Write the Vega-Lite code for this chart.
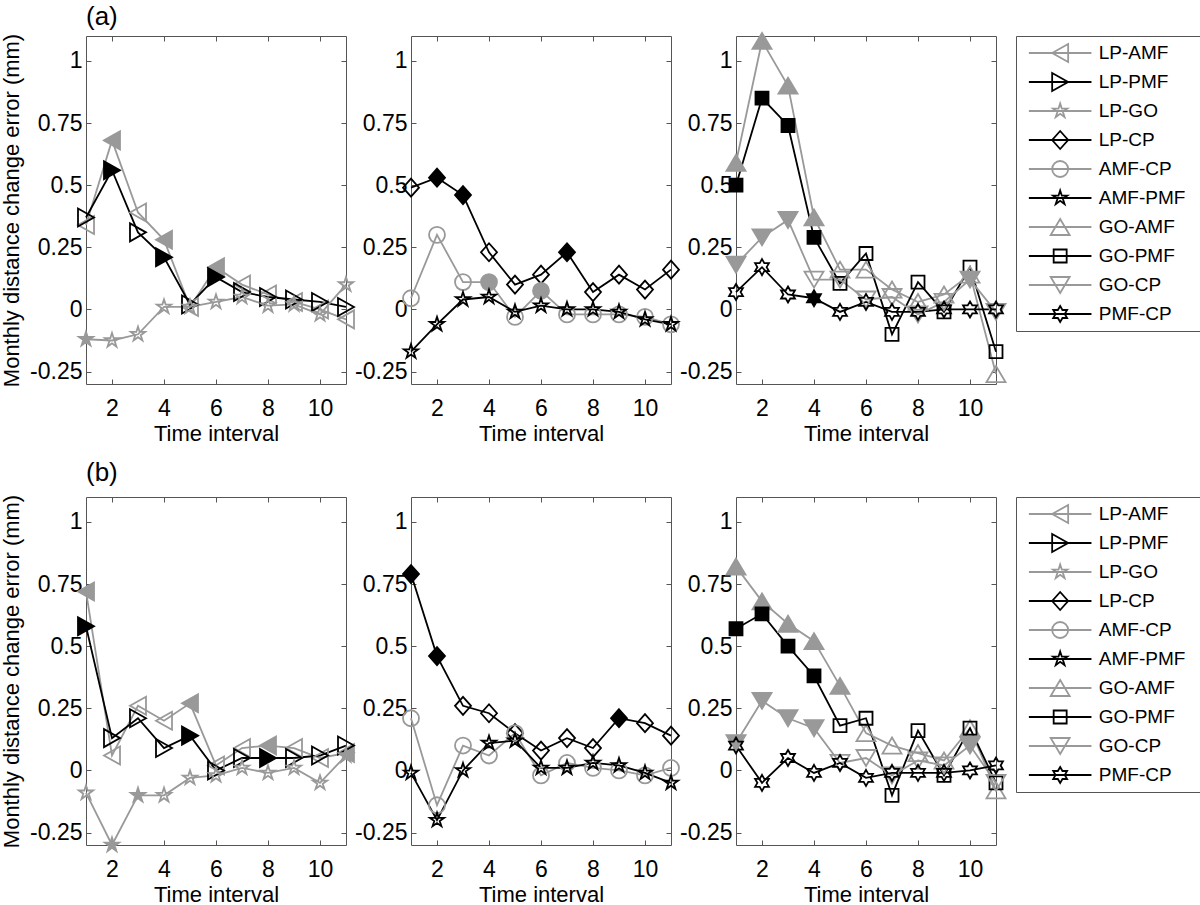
{
  "$schema": "https://vega.github.io/schema/vega-lite/v6.json",
  "background": "white",
  "padding": {"left": 0, "top": 3, "right": 0, "bottom": 0},
  "datasets": {
    "leg": [{"s":"LP-AMF"},{"s":"LP-PMF"},{"s":"LP-GO"},{"s":"LP-CP"},{"s":"AMF-CP"},{"s":"AMF-PMF"},{"s":"GO-AMF"},{"s":"GO-PMF"},{"s":"GO-CP"},{"s":"PMF-CP"}],
    "d": [
      {"r":"a","p":1,"s":"LP-AMF","t":1,"v":0.34,"f":0},{"r":"a","p":1,"s":"LP-AMF","t":2,"v":0.68,"f":1},{"r":"a","p":1,"s":"LP-AMF","t":3,"v":0.39,"f":0},{"r":"a","p":1,"s":"LP-AMF","t":4,"v":0.28,"f":1},{"r":"a","p":1,"s":"LP-AMF","t":5,"v":0.01,"f":0},{"r":"a","p":1,"s":"LP-AMF","t":6,"v":0.17,"f":1},{"r":"a","p":1,"s":"LP-AMF","t":7,"v":0.10,"f":0},{"r":"a","p":1,"s":"LP-AMF","t":8,"v":0.06,"f":0},{"r":"a","p":1,"s":"LP-AMF","t":9,"v":0.03,"f":0},{"r":"a","p":1,"s":"LP-AMF","t":10,"v":0.00,"f":0},{"r":"a","p":1,"s":"LP-AMF","t":11,"v":-0.04,"f":0},
      {"r":"a","p":1,"s":"LP-PMF","t":1,"v":0.37,"f":0},{"r":"a","p":1,"s":"LP-PMF","t":2,"v":0.56,"f":1},{"r":"a","p":1,"s":"LP-PMF","t":3,"v":0.31,"f":0},{"r":"a","p":1,"s":"LP-PMF","t":4,"v":0.21,"f":1},{"r":"a","p":1,"s":"LP-PMF","t":5,"v":0.02,"f":0},{"r":"a","p":1,"s":"LP-PMF","t":6,"v":0.13,"f":1},{"r":"a","p":1,"s":"LP-PMF","t":7,"v":0.07,"f":0},{"r":"a","p":1,"s":"LP-PMF","t":8,"v":0.05,"f":0},{"r":"a","p":1,"s":"LP-PMF","t":9,"v":0.04,"f":0},{"r":"a","p":1,"s":"LP-PMF","t":10,"v":0.03,"f":0},{"r":"a","p":1,"s":"LP-PMF","t":11,"v":0.01,"f":0},
      {"r":"a","p":1,"s":"LP-GO","t":1,"v":-0.12,"f":1},{"r":"a","p":1,"s":"LP-GO","t":2,"v":-0.125,"f":0},{"r":"a","p":1,"s":"LP-GO","t":3,"v":-0.10,"f":0},{"r":"a","p":1,"s":"LP-GO","t":4,"v":0.01,"f":0},{"r":"a","p":1,"s":"LP-GO","t":5,"v":0.01,"f":0},{"r":"a","p":1,"s":"LP-GO","t":6,"v":0.03,"f":0},{"r":"a","p":1,"s":"LP-GO","t":7,"v":0.05,"f":0},{"r":"a","p":1,"s":"LP-GO","t":8,"v":0.015,"f":0},{"r":"a","p":1,"s":"LP-GO","t":9,"v":0.02,"f":0},{"r":"a","p":1,"s":"LP-GO","t":10,"v":-0.02,"f":0},{"r":"a","p":1,"s":"LP-GO","t":11,"v":0.10,"f":0},

      {"r":"a","p":2,"s":"LP-CP","t":1,"v":0.49,"f":0},{"r":"a","p":2,"s":"LP-CP","t":2,"v":0.53,"f":1},{"r":"a","p":2,"s":"LP-CP","t":3,"v":0.46,"f":1},{"r":"a","p":2,"s":"LP-CP","t":4,"v":0.23,"f":0},{"r":"a","p":2,"s":"LP-CP","t":5,"v":0.10,"f":0},{"r":"a","p":2,"s":"LP-CP","t":6,"v":0.14,"f":0},{"r":"a","p":2,"s":"LP-CP","t":7,"v":0.23,"f":1},{"r":"a","p":2,"s":"LP-CP","t":8,"v":0.07,"f":0},{"r":"a","p":2,"s":"LP-CP","t":9,"v":0.14,"f":0},{"r":"a","p":2,"s":"LP-CP","t":10,"v":0.08,"f":0},{"r":"a","p":2,"s":"LP-CP","t":11,"v":0.16,"f":0},
      {"r":"a","p":2,"s":"AMF-CP","t":1,"v":0.045,"f":0},{"r":"a","p":2,"s":"AMF-CP","t":2,"v":0.30,"f":0},{"r":"a","p":2,"s":"AMF-CP","t":3,"v":0.11,"f":0},{"r":"a","p":2,"s":"AMF-CP","t":4,"v":0.11,"f":1},{"r":"a","p":2,"s":"AMF-CP","t":5,"v":-0.03,"f":0},{"r":"a","p":2,"s":"AMF-CP","t":6,"v":0.075,"f":1},{"r":"a","p":2,"s":"AMF-CP","t":7,"v":-0.02,"f":0},{"r":"a","p":2,"s":"AMF-CP","t":8,"v":-0.02,"f":0},{"r":"a","p":2,"s":"AMF-CP","t":9,"v":-0.02,"f":0},{"r":"a","p":2,"s":"AMF-CP","t":10,"v":-0.03,"f":0},{"r":"a","p":2,"s":"AMF-CP","t":11,"v":-0.06,"f":0},
      {"r":"a","p":2,"s":"AMF-PMF","t":1,"v":-0.17,"f":0},{"r":"a","p":2,"s":"AMF-PMF","t":2,"v":-0.06,"f":0},{"r":"a","p":2,"s":"AMF-PMF","t":3,"v":0.04,"f":0},{"r":"a","p":2,"s":"AMF-PMF","t":4,"v":0.05,"f":0},{"r":"a","p":2,"s":"AMF-PMF","t":5,"v":-0.01,"f":0},{"r":"a","p":2,"s":"AMF-PMF","t":6,"v":0.015,"f":0},{"r":"a","p":2,"s":"AMF-PMF","t":7,"v":0.00,"f":0},{"r":"a","p":2,"s":"AMF-PMF","t":8,"v":0.00,"f":0},{"r":"a","p":2,"s":"AMF-PMF","t":9,"v":-0.01,"f":0},{"r":"a","p":2,"s":"AMF-PMF","t":10,"v":-0.04,"f":0},{"r":"a","p":2,"s":"AMF-PMF","t":11,"v":-0.06,"f":0},

      {"r":"a","p":3,"s":"GO-AMF","t":1,"v":0.59,"f":1},{"r":"a","p":3,"s":"GO-AMF","t":2,"v":1.08,"f":1},{"r":"a","p":3,"s":"GO-AMF","t":3,"v":0.90,"f":1},{"r":"a","p":3,"s":"GO-AMF","t":4,"v":0.37,"f":1},{"r":"a","p":3,"s":"GO-AMF","t":5,"v":0.16,"f":0},{"r":"a","p":3,"s":"GO-AMF","t":6,"v":0.16,"f":0},{"r":"a","p":3,"s":"GO-AMF","t":7,"v":0.08,"f":0},{"r":"a","p":3,"s":"GO-AMF","t":8,"v":0.03,"f":0},{"r":"a","p":3,"s":"GO-AMF","t":9,"v":0.06,"f":0},{"r":"a","p":3,"s":"GO-AMF","t":10,"v":0.14,"f":0},{"r":"a","p":3,"s":"GO-AMF","t":11,"v":-0.26,"f":0},
      {"r":"a","p":3,"s":"GO-PMF","t":1,"v":0.50,"f":1},{"r":"a","p":3,"s":"GO-PMF","t":2,"v":0.85,"f":1},{"r":"a","p":3,"s":"GO-PMF","t":3,"v":0.74,"f":1},{"r":"a","p":3,"s":"GO-PMF","t":4,"v":0.29,"f":1},{"r":"a","p":3,"s":"GO-PMF","t":5,"v":0.105,"f":0},{"r":"a","p":3,"s":"GO-PMF","t":6,"v":0.225,"f":0},{"r":"a","p":3,"s":"GO-PMF","t":7,"v":-0.10,"f":0},{"r":"a","p":3,"s":"GO-PMF","t":8,"v":0.11,"f":0},{"r":"a","p":3,"s":"GO-PMF","t":9,"v":-0.01,"f":0},{"r":"a","p":3,"s":"GO-PMF","t":10,"v":0.17,"f":0},{"r":"a","p":3,"s":"GO-PMF","t":11,"v":-0.17,"f":0},
      {"r":"a","p":3,"s":"GO-CP","t":1,"v":0.18,"f":1},{"r":"a","p":3,"s":"GO-CP","t":2,"v":0.29,"f":1},{"r":"a","p":3,"s":"GO-CP","t":3,"v":0.36,"f":1},{"r":"a","p":3,"s":"GO-CP","t":4,"v":0.12,"f":0},{"r":"a","p":3,"s":"GO-CP","t":5,"v":0.12,"f":0},{"r":"a","p":3,"s":"GO-CP","t":6,"v":0.04,"f":0},{"r":"a","p":3,"s":"GO-CP","t":7,"v":0.05,"f":0},{"r":"a","p":3,"s":"GO-CP","t":8,"v":-0.02,"f":0},{"r":"a","p":3,"s":"GO-CP","t":9,"v":0.03,"f":0},{"r":"a","p":3,"s":"GO-CP","t":10,"v":0.12,"f":1},{"r":"a","p":3,"s":"GO-CP","t":11,"v":-0.01,"f":0},
      {"r":"a","p":3,"s":"PMF-CP","t":1,"v":0.07,"f":0},{"r":"a","p":3,"s":"PMF-CP","t":2,"v":0.17,"f":0},{"r":"a","p":3,"s":"PMF-CP","t":3,"v":0.06,"f":0},{"r":"a","p":3,"s":"PMF-CP","t":4,"v":0.045,"f":1},{"r":"a","p":3,"s":"PMF-CP","t":5,"v":-0.01,"f":0},{"r":"a","p":3,"s":"PMF-CP","t":6,"v":0.03,"f":0},{"r":"a","p":3,"s":"PMF-CP","t":7,"v":-0.01,"f":0},{"r":"a","p":3,"s":"PMF-CP","t":8,"v":-0.01,"f":0},{"r":"a","p":3,"s":"PMF-CP","t":9,"v":0.00,"f":0},{"r":"a","p":3,"s":"PMF-CP","t":10,"v":0.00,"f":0},{"r":"a","p":3,"s":"PMF-CP","t":11,"v":0.00,"f":0},

      {"r":"b","p":1,"s":"LP-AMF","t":1,"v":0.72,"f":1},{"r":"b","p":1,"s":"LP-AMF","t":2,"v":0.06,"f":0},{"r":"b","p":1,"s":"LP-AMF","t":3,"v":0.26,"f":0},{"r":"b","p":1,"s":"LP-AMF","t":4,"v":0.20,"f":0},{"r":"b","p":1,"s":"LP-AMF","t":5,"v":0.27,"f":1},{"r":"b","p":1,"s":"LP-AMF","t":6,"v":0.02,"f":0},{"r":"b","p":1,"s":"LP-AMF","t":7,"v":0.09,"f":0},{"r":"b","p":1,"s":"LP-AMF","t":8,"v":0.10,"f":1},{"r":"b","p":1,"s":"LP-AMF","t":9,"v":0.09,"f":0},{"r":"b","p":1,"s":"LP-AMF","t":10,"v":0.05,"f":0},{"r":"b","p":1,"s":"LP-AMF","t":11,"v":0.07,"f":1},
      {"r":"b","p":1,"s":"LP-PMF","t":1,"v":0.58,"f":1},{"r":"b","p":1,"s":"LP-PMF","t":2,"v":0.13,"f":0},{"r":"b","p":1,"s":"LP-PMF","t":3,"v":0.21,"f":0},{"r":"b","p":1,"s":"LP-PMF","t":4,"v":0.09,"f":0},{"r":"b","p":1,"s":"LP-PMF","t":5,"v":0.14,"f":1},{"r":"b","p":1,"s":"LP-PMF","t":6,"v":0.00,"f":0},{"r":"b","p":1,"s":"LP-PMF","t":7,"v":0.05,"f":0},{"r":"b","p":1,"s":"LP-PMF","t":8,"v":0.05,"f":1},{"r":"b","p":1,"s":"LP-PMF","t":9,"v":0.05,"f":0},{"r":"b","p":1,"s":"LP-PMF","t":10,"v":0.06,"f":0},{"r":"b","p":1,"s":"LP-PMF","t":11,"v":0.10,"f":0},
      {"r":"b","p":1,"s":"LP-GO","t":1,"v":-0.09,"f":0},{"r":"b","p":1,"s":"LP-GO","t":2,"v":-0.30,"f":1},{"r":"b","p":1,"s":"LP-GO","t":3,"v":-0.10,"f":1},{"r":"b","p":1,"s":"LP-GO","t":4,"v":-0.10,"f":0},{"r":"b","p":1,"s":"LP-GO","t":5,"v":-0.03,"f":0},{"r":"b","p":1,"s":"LP-GO","t":6,"v":-0.02,"f":0},{"r":"b","p":1,"s":"LP-GO","t":7,"v":0.01,"f":0},{"r":"b","p":1,"s":"LP-GO","t":8,"v":-0.01,"f":0},{"r":"b","p":1,"s":"LP-GO","t":9,"v":0.01,"f":0},{"r":"b","p":1,"s":"LP-GO","t":10,"v":-0.05,"f":0},{"r":"b","p":1,"s":"LP-GO","t":11,"v":0.06,"f":1},

      {"r":"b","p":2,"s":"LP-CP","t":1,"v":0.79,"f":1},{"r":"b","p":2,"s":"LP-CP","t":2,"v":0.46,"f":1},{"r":"b","p":2,"s":"LP-CP","t":3,"v":0.26,"f":0},{"r":"b","p":2,"s":"LP-CP","t":4,"v":0.23,"f":0},{"r":"b","p":2,"s":"LP-CP","t":5,"v":0.15,"f":0},{"r":"b","p":2,"s":"LP-CP","t":6,"v":0.08,"f":0},{"r":"b","p":2,"s":"LP-CP","t":7,"v":0.13,"f":0},{"r":"b","p":2,"s":"LP-CP","t":8,"v":0.09,"f":0},{"r":"b","p":2,"s":"LP-CP","t":9,"v":0.21,"f":1},{"r":"b","p":2,"s":"LP-CP","t":10,"v":0.19,"f":0},{"r":"b","p":2,"s":"LP-CP","t":11,"v":0.14,"f":0},
      {"r":"b","p":2,"s":"AMF-CP","t":1,"v":0.21,"f":0},{"r":"b","p":2,"s":"AMF-CP","t":2,"v":-0.14,"f":0},{"r":"b","p":2,"s":"AMF-CP","t":3,"v":0.10,"f":0},{"r":"b","p":2,"s":"AMF-CP","t":4,"v":0.06,"f":0},{"r":"b","p":2,"s":"AMF-CP","t":5,"v":0.15,"f":0},{"r":"b","p":2,"s":"AMF-CP","t":6,"v":-0.02,"f":0},{"r":"b","p":2,"s":"AMF-CP","t":7,"v":0.03,"f":0},{"r":"b","p":2,"s":"AMF-CP","t":8,"v":0.01,"f":0},{"r":"b","p":2,"s":"AMF-CP","t":9,"v":0.00,"f":0},{"r":"b","p":2,"s":"AMF-CP","t":10,"v":-0.02,"f":0},{"r":"b","p":2,"s":"AMF-CP","t":11,"v":0.01,"f":0},
      {"r":"b","p":2,"s":"AMF-PMF","t":1,"v":-0.01,"f":0},{"r":"b","p":2,"s":"AMF-PMF","t":2,"v":-0.20,"f":0},{"r":"b","p":2,"s":"AMF-PMF","t":3,"v":0.00,"f":0},{"r":"b","p":2,"s":"AMF-PMF","t":4,"v":0.11,"f":0},{"r":"b","p":2,"s":"AMF-PMF","t":5,"v":0.12,"f":0},{"r":"b","p":2,"s":"AMF-PMF","t":6,"v":0.01,"f":0},{"r":"b","p":2,"s":"AMF-PMF","t":7,"v":0.01,"f":0},{"r":"b","p":2,"s":"AMF-PMF","t":8,"v":0.03,"f":0},{"r":"b","p":2,"s":"AMF-PMF","t":9,"v":0.02,"f":0},{"r":"b","p":2,"s":"AMF-PMF","t":10,"v":-0.01,"f":0},{"r":"b","p":2,"s":"AMF-PMF","t":11,"v":-0.05,"f":0},

      {"r":"b","p":3,"s":"GO-AMF","t":1,"v":0.82,"f":1},{"r":"b","p":3,"s":"GO-AMF","t":2,"v":0.68,"f":1},{"r":"b","p":3,"s":"GO-AMF","t":3,"v":0.59,"f":1},{"r":"b","p":3,"s":"GO-AMF","t":4,"v":0.52,"f":1},{"r":"b","p":3,"s":"GO-AMF","t":5,"v":0.34,"f":1},{"r":"b","p":3,"s":"GO-AMF","t":6,"v":0.15,"f":0},{"r":"b","p":3,"s":"GO-AMF","t":7,"v":0.10,"f":0},{"r":"b","p":3,"s":"GO-AMF","t":8,"v":0.07,"f":0},{"r":"b","p":3,"s":"GO-AMF","t":9,"v":0.04,"f":0},{"r":"b","p":3,"s":"GO-AMF","t":10,"v":0.17,"f":0},{"r":"b","p":3,"s":"GO-AMF","t":11,"v":-0.08,"f":0},
      {"r":"b","p":3,"s":"GO-PMF","t":1,"v":0.57,"f":1},{"r":"b","p":3,"s":"GO-PMF","t":2,"v":0.63,"f":1},{"r":"b","p":3,"s":"GO-PMF","t":3,"v":0.50,"f":1},{"r":"b","p":3,"s":"GO-PMF","t":4,"v":0.38,"f":1},{"r":"b","p":3,"s":"GO-PMF","t":5,"v":0.18,"f":0},{"r":"b","p":3,"s":"GO-PMF","t":6,"v":0.21,"f":0},{"r":"b","p":3,"s":"GO-PMF","t":7,"v":-0.10,"f":0},{"r":"b","p":3,"s":"GO-PMF","t":8,"v":0.16,"f":0},{"r":"b","p":3,"s":"GO-PMF","t":9,"v":-0.02,"f":0},{"r":"b","p":3,"s":"GO-PMF","t":10,"v":0.17,"f":0},{"r":"b","p":3,"s":"GO-PMF","t":11,"v":-0.05,"f":0},
      {"r":"b","p":3,"s":"GO-CP","t":1,"v":0.11,"f":1},{"r":"b","p":3,"s":"GO-CP","t":2,"v":0.28,"f":1},{"r":"b","p":3,"s":"GO-CP","t":3,"v":0.21,"f":1},{"r":"b","p":3,"s":"GO-CP","t":4,"v":0.17,"f":1},{"r":"b","p":3,"s":"GO-CP","t":5,"v":0.03,"f":0},{"r":"b","p":3,"s":"GO-CP","t":6,"v":0.05,"f":0},{"r":"b","p":3,"s":"GO-CP","t":7,"v":-0.02,"f":0},{"r":"b","p":3,"s":"GO-CP","t":8,"v":0.04,"f":0},{"r":"b","p":3,"s":"GO-CP","t":9,"v":0.02,"f":0},{"r":"b","p":3,"s":"GO-CP","t":10,"v":0.10,"f":1},{"r":"b","p":3,"s":"GO-CP","t":11,"v":-0.05,"f":0},
      {"r":"b","p":3,"s":"PMF-CP","t":1,"v":0.10,"f":0},{"r":"b","p":3,"s":"PMF-CP","t":2,"v":-0.05,"f":0},{"r":"b","p":3,"s":"PMF-CP","t":3,"v":0.05,"f":0},{"r":"b","p":3,"s":"PMF-CP","t":4,"v":-0.01,"f":0},{"r":"b","p":3,"s":"PMF-CP","t":5,"v":0.03,"f":0},{"r":"b","p":3,"s":"PMF-CP","t":6,"v":-0.03,"f":0},{"r":"b","p":3,"s":"PMF-CP","t":7,"v":-0.01,"f":0},{"r":"b","p":3,"s":"PMF-CP","t":8,"v":-0.01,"f":0},{"r":"b","p":3,"s":"PMF-CP","t":9,"v":-0.01,"f":0},{"r":"b","p":3,"s":"PMF-CP","t":10,"v":0.00,"f":0},{"r":"b","p":3,"s":"PMF-CP","t":11,"v":0.02,"f":0}
    ]
  },
  "data": {"name": "d"},
  "config": {
    "font": "Liberation Sans",
    "view": {"stroke": "#555555", "strokeWidth": 1},
    "axis": {
      "domain": false, "grid": false, "ticks": true, "tickSize": -5, "tickColor": "#555555", "tickWidth": 1,
      "labelFontSize": 23, "labelColor": "#000000", "labelOverlap": false, "labelBound": false, "labelFlush": false,
      "titleFontSize": 22, "titleFontWeight": "normal", "titleColor": "#000000"
    },
    "axisBottom": {"labelPadding": 18, "titlePadding": 3},
    "axisLeft": {"labelPadding": 9, "titlePadding": 6},
    "title": {"fontSize": 26, "fontWeight": "normal", "color": "#000000", "anchor": "start", "frame": "group", "offset": 4}
  },
  "spacing": 14,
  "vconcat": [
    {
      "spacing": 5,
      "hconcat": [
        {
          "spacing": 65,
          "bounds": "flush",
          "hconcat": [
            {
              "width": 260, "height": 348,
              "title": {"text": "(a)", "offset": 3},
              "transform": [{"filter": "datum.r == 'a' && datum.p == 1"}],
              "resolve": {"axis": {"x": "independent", "y": "independent"}},
              "layer": [
                {"mark": {"type": "line", "strokeWidth": 1.8},
                 "encoding": {
                   "x": {"field": "t", "type": "quantitative", "scale": {"domain": [1, 11], "nice": false, "zero": false}, "axis": {"orient": "bottom", "title": "Time interval", "values": [2,4,6,8,10]}},
                   "y": {"field": "v", "type": "quantitative", "scale": {"domain": [-0.3, 1.1], "nice": false, "zero": false}, "axis": {"orient": "left", "title": "Monthly distance change error (mm)", "values": [-0.25,0,0.25,0.5,0.75,1], "labelExpr": "datum.value < 0 ? '-' + format(-datum.value, '~g') : format(datum.value, '~g')"}},
                   "stroke": {"field": "s", "type": "nominal", "scale": {"domain": ["LP-AMF","LP-PMF","LP-GO","LP-CP","AMF-CP","AMF-PMF","GO-AMF","GO-PMF","GO-CP","PMF-CP"], "range": ["#999999","#000000","#999999","#000000","#999999","#000000","#999999","#000000","#999999","#000000"]}, "legend": null}
                 }},
                {"mark": {"type": "point", "size": 4, "opacity": 1, "strokeWidth": 1.8},
                 "encoding": {
                   "x": {"field": "t", "type": "quantitative", "axis": {"orient": "top", "title": null, "labels": false, "values": [2,4,6,8,10]}},
                   "y": {"field": "v", "type": "quantitative", "axis": {"orient": "right", "title": null, "labels": false, "values": [-0.25,0,0.25,0.5,0.75,1]}},
                   "shape": {"field": "s", "type": "nominal", "scale": {"domain": ["LP-AMF","LP-PMF","LP-GO","LP-CP","AMF-CP","AMF-PMF","GO-AMF","GO-PMF","GO-CP","PMF-CP"], "range": ["M-8,0L8,-9L8,9Z","M8,0L-8,-9L-8,9Z","M0,-7.5L1.68,-2.32L7.13,-2.32L2.72,0.89L4.41,6.07L0,2.87L-4.41,6.07L-2.72,0.89L-7.13,-2.32L-1.68,-2.32Z","M0,-9L8,0L0,9L-8,0Z","M8,0A8,8 0 1,1 -8,0A8,8 0 1,1 8,0Z","M0,-7.5L1.68,-2.32L7.13,-2.32L2.72,0.89L4.41,6.07L0,2.87L-4.41,6.07L-2.72,0.89L-7.13,-2.32L-1.68,-2.32Z","M0,-8L9.5,8L-9.5,8Z","M-6.5,-6.5L6.5,-6.5L6.5,6.5L-6.5,6.5Z","M0,8L9.5,-8L-9.5,-8Z","M0,-8L2.31,-4L6.93,-4L4.62,0L6.93,4L2.31,4L0,8L-2.31,4L-6.93,4L-4.62,0L-6.93,-4L-2.31,-4Z"]}, "legend": null},
                   "stroke": {"field": "s", "type": "nominal", "legend": null},
                   "fill": {"condition": {"test": "datum.f == 1", "field": "s", "type": "nominal", "scale": {"domain": ["LP-AMF","LP-PMF","LP-GO","LP-CP","AMF-CP","AMF-PMF","GO-AMF","GO-PMF","GO-CP","PMF-CP"], "range": ["#999999","#000000","#999999","#000000","#999999","#000000","#999999","#000000","#999999","#000000"]}, "legend": null}, "value": "transparent"}
                 }}
              ]
            },
            {
              "width": 260, "height": 348,
              "transform": [{"filter": "datum.r == 'a' && datum.p == 2"}],
              "resolve": {"axis": {"x": "independent", "y": "independent"}},
              "layer": [
                {"mark": {"type": "line", "strokeWidth": 1.8},
                 "encoding": {
                   "x": {"field": "t", "type": "quantitative", "scale": {"domain": [1, 11], "nice": false, "zero": false}, "axis": {"orient": "bottom", "title": "Time interval", "values": [2,4,6,8,10]}},
                   "y": {"field": "v", "type": "quantitative", "scale": {"domain": [-0.3, 1.1], "nice": false, "zero": false}, "axis": {"orient": "left", "title": null, "values": [-0.25,0,0.25,0.5,0.75,1], "labelExpr": "datum.value < 0 ? '-' + format(-datum.value, '~g') : format(datum.value, '~g')"}},
                   "stroke": {"field": "s", "type": "nominal", "scale": {"domain": ["LP-AMF","LP-PMF","LP-GO","LP-CP","AMF-CP","AMF-PMF","GO-AMF","GO-PMF","GO-CP","PMF-CP"], "range": ["#999999","#000000","#999999","#000000","#999999","#000000","#999999","#000000","#999999","#000000"]}, "legend": null}
                 }},
                {"mark": {"type": "point", "size": 4, "opacity": 1, "strokeWidth": 1.8},
                 "encoding": {
                   "x": {"field": "t", "type": "quantitative", "axis": {"orient": "top", "title": null, "labels": false, "values": [2,4,6,8,10]}},
                   "y": {"field": "v", "type": "quantitative", "axis": {"orient": "right", "title": null, "labels": false, "values": [-0.25,0,0.25,0.5,0.75,1]}},
                   "shape": {"field": "s", "type": "nominal", "scale": {"domain": ["LP-AMF","LP-PMF","LP-GO","LP-CP","AMF-CP","AMF-PMF","GO-AMF","GO-PMF","GO-CP","PMF-CP"], "range": ["M-8,0L8,-9L8,9Z","M8,0L-8,-9L-8,9Z","M0,-7.5L1.68,-2.32L7.13,-2.32L2.72,0.89L4.41,6.07L0,2.87L-4.41,6.07L-2.72,0.89L-7.13,-2.32L-1.68,-2.32Z","M0,-9L8,0L0,9L-8,0Z","M8,0A8,8 0 1,1 -8,0A8,8 0 1,1 8,0Z","M0,-7.5L1.68,-2.32L7.13,-2.32L2.72,0.89L4.41,6.07L0,2.87L-4.41,6.07L-2.72,0.89L-7.13,-2.32L-1.68,-2.32Z","M0,-8L9.5,8L-9.5,8Z","M-6.5,-6.5L6.5,-6.5L6.5,6.5L-6.5,6.5Z","M0,8L9.5,-8L-9.5,-8Z","M0,-8L2.31,-4L6.93,-4L4.62,0L6.93,4L2.31,4L0,8L-2.31,4L-6.93,4L-4.62,0L-6.93,-4L-2.31,-4Z"]}, "legend": null},
                   "stroke": {"field": "s", "type": "nominal", "legend": null},
                   "fill": {"condition": {"test": "datum.f == 1", "field": "s", "type": "nominal", "scale": {"domain": ["LP-AMF","LP-PMF","LP-GO","LP-CP","AMF-CP","AMF-PMF","GO-AMF","GO-PMF","GO-CP","PMF-CP"], "range": ["#999999","#000000","#999999","#000000","#999999","#000000","#999999","#000000","#999999","#000000"]}, "legend": null}, "value": "transparent"}
                 }}
              ]
            },
            {
              "width": 260, "height": 348,
              "transform": [{"filter": "datum.r == 'a' && datum.p == 3"}],
              "resolve": {"axis": {"x": "independent", "y": "independent"}},
              "layer": [
                {"mark": {"type": "line", "strokeWidth": 1.8},
                 "encoding": {
                   "x": {"field": "t", "type": "quantitative", "scale": {"domain": [1, 11], "nice": false, "zero": false}, "axis": {"orient": "bottom", "title": "Time interval", "values": [2,4,6,8,10]}},
                   "y": {"field": "v", "type": "quantitative", "scale": {"domain": [-0.3, 1.1], "nice": false, "zero": false}, "axis": {"orient": "left", "title": null, "values": [-0.25,0,0.25,0.5,0.75,1], "labelExpr": "datum.value < 0 ? '-' + format(-datum.value, '~g') : format(datum.value, '~g')"}},
                   "stroke": {"field": "s", "type": "nominal", "scale": {"domain": ["LP-AMF","LP-PMF","LP-GO","LP-CP","AMF-CP","AMF-PMF","GO-AMF","GO-PMF","GO-CP","PMF-CP"], "range": ["#999999","#000000","#999999","#000000","#999999","#000000","#999999","#000000","#999999","#000000"]}, "legend": null}
                 }},
                {"mark": {"type": "point", "size": 4, "opacity": 1, "strokeWidth": 1.8},
                 "encoding": {
                   "x": {"field": "t", "type": "quantitative", "axis": {"orient": "top", "title": null, "labels": false, "values": [2,4,6,8,10]}},
                   "y": {"field": "v", "type": "quantitative", "axis": {"orient": "right", "title": null, "labels": false, "values": [-0.25,0,0.25,0.5,0.75,1]}},
                   "shape": {"field": "s", "type": "nominal", "scale": {"domain": ["LP-AMF","LP-PMF","LP-GO","LP-CP","AMF-CP","AMF-PMF","GO-AMF","GO-PMF","GO-CP","PMF-CP"], "range": ["M-8,0L8,-9L8,9Z","M8,0L-8,-9L-8,9Z","M0,-7.5L1.68,-2.32L7.13,-2.32L2.72,0.89L4.41,6.07L0,2.87L-4.41,6.07L-2.72,0.89L-7.13,-2.32L-1.68,-2.32Z","M0,-9L8,0L0,9L-8,0Z","M8,0A8,8 0 1,1 -8,0A8,8 0 1,1 8,0Z","M0,-7.5L1.68,-2.32L7.13,-2.32L2.72,0.89L4.41,6.07L0,2.87L-4.41,6.07L-2.72,0.89L-7.13,-2.32L-1.68,-2.32Z","M0,-8L9.5,8L-9.5,8Z","M-6.5,-6.5L6.5,-6.5L6.5,6.5L-6.5,6.5Z","M0,8L9.5,-8L-9.5,-8Z","M0,-8L2.31,-4L6.93,-4L4.62,0L6.93,4L2.31,4L0,8L-2.31,4L-6.93,4L-4.62,0L-6.93,-4L-2.31,-4Z"]}, "legend": null},
                   "stroke": {"field": "s", "type": "nominal", "legend": null},
                   "fill": {"condition": {"test": "datum.f == 1", "field": "s", "type": "nominal", "scale": {"domain": ["LP-AMF","LP-PMF","LP-GO","LP-CP","AMF-CP","AMF-PMF","GO-AMF","GO-PMF","GO-CP","PMF-CP"], "range": ["#999999","#000000","#999999","#000000","#999999","#000000","#999999","#000000","#999999","#000000"]}, "legend": null}, "value": "transparent"}
                 }}
              ]
            }
          ]
        },
        {
          "data": {"name": "leg"},
          "width": 184, "height": 295,
          "layer": [
            {"mark": {"type": "rule", "strokeWidth": 1.8},
             "encoding": {
               "x": {"datum": 0.07, "type": "quantitative", "scale": {"domain": [0, 1], "nice": false, "zero": false}, "axis": null},
               "x2": {"datum": 0.41},
               "y": {"field": "s", "type": "nominal", "scale": {"type": "point", "domain": ["LP-AMF","LP-PMF","LP-GO","LP-CP","AMF-CP","AMF-PMF","GO-AMF","GO-PMF","GO-CP","PMF-CP"], "padding": 0.586}, "axis": null},
               "stroke": {"field": "s", "type": "nominal", "scale": {"domain": ["LP-AMF","LP-PMF","LP-GO","LP-CP","AMF-CP","AMF-PMF","GO-AMF","GO-PMF","GO-CP","PMF-CP"], "range": ["#999999","#000000","#999999","#000000","#999999","#000000","#999999","#000000","#999999","#000000"]}, "legend": null}
             }},
            {"mark": {"type": "point", "size": 4, "opacity": 1, "strokeWidth": 1.8, "filled": false, "fill": "transparent"},
             "encoding": {
               "x": {"datum": 0.24, "type": "quantitative"},
               "y": {"field": "s", "type": "nominal"},
               "shape": {"field": "s", "type": "nominal", "scale": {"domain": ["LP-AMF","LP-PMF","LP-GO","LP-CP","AMF-CP","AMF-PMF","GO-AMF","GO-PMF","GO-CP","PMF-CP"], "range": ["M-8,0L8,-9L8,9Z","M8,0L-8,-9L-8,9Z","M0,-7.5L1.68,-2.32L7.13,-2.32L2.72,0.89L4.41,6.07L0,2.87L-4.41,6.07L-2.72,0.89L-7.13,-2.32L-1.68,-2.32Z","M0,-9L8,0L0,9L-8,0Z","M8,0A8,8 0 1,1 -8,0A8,8 0 1,1 8,0Z","M0,-7.5L1.68,-2.32L7.13,-2.32L2.72,0.89L4.41,6.07L0,2.87L-4.41,6.07L-2.72,0.89L-7.13,-2.32L-1.68,-2.32Z","M0,-8L9.5,8L-9.5,8Z","M-6.5,-6.5L6.5,-6.5L6.5,6.5L-6.5,6.5Z","M0,8L9.5,-8L-9.5,-8Z","M0,-8L2.31,-4L6.93,-4L4.62,0L6.93,4L2.31,4L0,8L-2.31,4L-6.93,4L-4.62,0L-6.93,-4L-2.31,-4Z"]}, "legend": null},
               "stroke": {"field": "s", "type": "nominal", "legend": null}
             }},
            {"mark": {"type": "text", "align": "left", "baseline": "middle", "fontSize": 19, "color": "#000000"},
             "encoding": {
               "x": {"datum": 0.45, "type": "quantitative"},
               "y": {"field": "s", "type": "nominal"},
               "text": {"field": "s"}
             }}
          ]
        }
      ]
    },
    {
      "spacing": 5,
      "hconcat": [
        {
          "spacing": 65,
          "bounds": "flush",
          "hconcat": [
            {
              "width": 260, "height": 348,
              "title": {"text": "(b)", "offset": 8},
              "transform": [{"filter": "datum.r == 'b' && datum.p == 1"}],
              "resolve": {"axis": {"x": "independent", "y": "independent"}},
              "layer": [
                {"mark": {"type": "line", "strokeWidth": 1.8},
                 "encoding": {
                   "x": {"field": "t", "type": "quantitative", "scale": {"domain": [1, 11], "nice": false, "zero": false}, "axis": {"orient": "bottom", "title": "Time interval", "values": [2,4,6,8,10]}},
                   "y": {"field": "v", "type": "quantitative", "scale": {"domain": [-0.3, 1.1], "nice": false, "zero": false}, "axis": {"orient": "left", "title": "Monthly distance change error (mm)", "values": [-0.25,0,0.25,0.5,0.75,1], "labelExpr": "datum.value < 0 ? '-' + format(-datum.value, '~g') : format(datum.value, '~g')"}},
                   "stroke": {"field": "s", "type": "nominal", "scale": {"domain": ["LP-AMF","LP-PMF","LP-GO","LP-CP","AMF-CP","AMF-PMF","GO-AMF","GO-PMF","GO-CP","PMF-CP"], "range": ["#999999","#000000","#999999","#000000","#999999","#000000","#999999","#000000","#999999","#000000"]}, "legend": null}
                 }},
                {"mark": {"type": "point", "size": 4, "opacity": 1, "strokeWidth": 1.8},
                 "encoding": {
                   "x": {"field": "t", "type": "quantitative", "axis": {"orient": "top", "title": null, "labels": false, "values": [2,4,6,8,10]}},
                   "y": {"field": "v", "type": "quantitative", "axis": {"orient": "right", "title": null, "labels": false, "values": [-0.25,0,0.25,0.5,0.75,1]}},
                   "shape": {"field": "s", "type": "nominal", "scale": {"domain": ["LP-AMF","LP-PMF","LP-GO","LP-CP","AMF-CP","AMF-PMF","GO-AMF","GO-PMF","GO-CP","PMF-CP"], "range": ["M-8,0L8,-9L8,9Z","M8,0L-8,-9L-8,9Z","M0,-7.5L1.68,-2.32L7.13,-2.32L2.72,0.89L4.41,6.07L0,2.87L-4.41,6.07L-2.72,0.89L-7.13,-2.32L-1.68,-2.32Z","M0,-9L8,0L0,9L-8,0Z","M8,0A8,8 0 1,1 -8,0A8,8 0 1,1 8,0Z","M0,-7.5L1.68,-2.32L7.13,-2.32L2.72,0.89L4.41,6.07L0,2.87L-4.41,6.07L-2.72,0.89L-7.13,-2.32L-1.68,-2.32Z","M0,-8L9.5,8L-9.5,8Z","M-6.5,-6.5L6.5,-6.5L6.5,6.5L-6.5,6.5Z","M0,8L9.5,-8L-9.5,-8Z","M0,-8L2.31,-4L6.93,-4L4.62,0L6.93,4L2.31,4L0,8L-2.31,4L-6.93,4L-4.62,0L-6.93,-4L-2.31,-4Z"]}, "legend": null},
                   "stroke": {"field": "s", "type": "nominal", "legend": null},
                   "fill": {"condition": {"test": "datum.f == 1", "field": "s", "type": "nominal", "scale": {"domain": ["LP-AMF","LP-PMF","LP-GO","LP-CP","AMF-CP","AMF-PMF","GO-AMF","GO-PMF","GO-CP","PMF-CP"], "range": ["#999999","#000000","#999999","#000000","#999999","#000000","#999999","#000000","#999999","#000000"]}, "legend": null}, "value": "transparent"}
                 }}
              ]
            },
            {
              "width": 260, "height": 348,
              "transform": [{"filter": "datum.r == 'b' && datum.p == 2"}],
              "resolve": {"axis": {"x": "independent", "y": "independent"}},
              "layer": [
                {"mark": {"type": "line", "strokeWidth": 1.8},
                 "encoding": {
                   "x": {"field": "t", "type": "quantitative", "scale": {"domain": [1, 11], "nice": false, "zero": false}, "axis": {"orient": "bottom", "title": "Time interval", "values": [2,4,6,8,10]}},
                   "y": {"field": "v", "type": "quantitative", "scale": {"domain": [-0.3, 1.1], "nice": false, "zero": false}, "axis": {"orient": "left", "title": null, "values": [-0.25,0,0.25,0.5,0.75,1], "labelExpr": "datum.value < 0 ? '-' + format(-datum.value, '~g') : format(datum.value, '~g')"}},
                   "stroke": {"field": "s", "type": "nominal", "scale": {"domain": ["LP-AMF","LP-PMF","LP-GO","LP-CP","AMF-CP","AMF-PMF","GO-AMF","GO-PMF","GO-CP","PMF-CP"], "range": ["#999999","#000000","#999999","#000000","#999999","#000000","#999999","#000000","#999999","#000000"]}, "legend": null}
                 }},
                {"mark": {"type": "point", "size": 4, "opacity": 1, "strokeWidth": 1.8},
                 "encoding": {
                   "x": {"field": "t", "type": "quantitative", "axis": {"orient": "top", "title": null, "labels": false, "values": [2,4,6,8,10]}},
                   "y": {"field": "v", "type": "quantitative", "axis": {"orient": "right", "title": null, "labels": false, "values": [-0.25,0,0.25,0.5,0.75,1]}},
                   "shape": {"field": "s", "type": "nominal", "scale": {"domain": ["LP-AMF","LP-PMF","LP-GO","LP-CP","AMF-CP","AMF-PMF","GO-AMF","GO-PMF","GO-CP","PMF-CP"], "range": ["M-8,0L8,-9L8,9Z","M8,0L-8,-9L-8,9Z","M0,-7.5L1.68,-2.32L7.13,-2.32L2.72,0.89L4.41,6.07L0,2.87L-4.41,6.07L-2.72,0.89L-7.13,-2.32L-1.68,-2.32Z","M0,-9L8,0L0,9L-8,0Z","M8,0A8,8 0 1,1 -8,0A8,8 0 1,1 8,0Z","M0,-7.5L1.68,-2.32L7.13,-2.32L2.72,0.89L4.41,6.07L0,2.87L-4.41,6.07L-2.72,0.89L-7.13,-2.32L-1.68,-2.32Z","M0,-8L9.5,8L-9.5,8Z","M-6.5,-6.5L6.5,-6.5L6.5,6.5L-6.5,6.5Z","M0,8L9.5,-8L-9.5,-8Z","M0,-8L2.31,-4L6.93,-4L4.62,0L6.93,4L2.31,4L0,8L-2.31,4L-6.93,4L-4.62,0L-6.93,-4L-2.31,-4Z"]}, "legend": null},
                   "stroke": {"field": "s", "type": "nominal", "legend": null},
                   "fill": {"condition": {"test": "datum.f == 1", "field": "s", "type": "nominal", "scale": {"domain": ["LP-AMF","LP-PMF","LP-GO","LP-CP","AMF-CP","AMF-PMF","GO-AMF","GO-PMF","GO-CP","PMF-CP"], "range": ["#999999","#000000","#999999","#000000","#999999","#000000","#999999","#000000","#999999","#000000"]}, "legend": null}, "value": "transparent"}
                 }}
              ]
            },
            {
              "width": 260, "height": 348,
              "transform": [{"filter": "datum.r == 'b' && datum.p == 3"}],
              "resolve": {"axis": {"x": "independent", "y": "independent"}},
              "layer": [
                {"mark": {"type": "line", "strokeWidth": 1.8},
                 "encoding": {
                   "x": {"field": "t", "type": "quantitative", "scale": {"domain": [1, 11], "nice": false, "zero": false}, "axis": {"orient": "bottom", "title": "Time interval", "values": [2,4,6,8,10]}},
                   "y": {"field": "v", "type": "quantitative", "scale": {"domain": [-0.3, 1.1], "nice": false, "zero": false}, "axis": {"orient": "left", "title": null, "values": [-0.25,0,0.25,0.5,0.75,1], "labelExpr": "datum.value < 0 ? '-' + format(-datum.value, '~g') : format(datum.value, '~g')"}},
                   "stroke": {"field": "s", "type": "nominal", "scale": {"domain": ["LP-AMF","LP-PMF","LP-GO","LP-CP","AMF-CP","AMF-PMF","GO-AMF","GO-PMF","GO-CP","PMF-CP"], "range": ["#999999","#000000","#999999","#000000","#999999","#000000","#999999","#000000","#999999","#000000"]}, "legend": null}
                 }},
                {"mark": {"type": "point", "size": 4, "opacity": 1, "strokeWidth": 1.8},
                 "encoding": {
                   "x": {"field": "t", "type": "quantitative", "axis": {"orient": "top", "title": null, "labels": false, "values": [2,4,6,8,10]}},
                   "y": {"field": "v", "type": "quantitative", "axis": {"orient": "right", "title": null, "labels": false, "values": [-0.25,0,0.25,0.5,0.75,1]}},
                   "shape": {"field": "s", "type": "nominal", "scale": {"domain": ["LP-AMF","LP-PMF","LP-GO","LP-CP","AMF-CP","AMF-PMF","GO-AMF","GO-PMF","GO-CP","PMF-CP"], "range": ["M-8,0L8,-9L8,9Z","M8,0L-8,-9L-8,9Z","M0,-7.5L1.68,-2.32L7.13,-2.32L2.72,0.89L4.41,6.07L0,2.87L-4.41,6.07L-2.72,0.89L-7.13,-2.32L-1.68,-2.32Z","M0,-9L8,0L0,9L-8,0Z","M8,0A8,8 0 1,1 -8,0A8,8 0 1,1 8,0Z","M0,-7.5L1.68,-2.32L7.13,-2.32L2.72,0.89L4.41,6.07L0,2.87L-4.41,6.07L-2.72,0.89L-7.13,-2.32L-1.68,-2.32Z","M0,-8L9.5,8L-9.5,8Z","M-6.5,-6.5L6.5,-6.5L6.5,6.5L-6.5,6.5Z","M0,8L9.5,-8L-9.5,-8Z","M0,-8L2.31,-4L6.93,-4L4.62,0L6.93,4L2.31,4L0,8L-2.31,4L-6.93,4L-4.62,0L-6.93,-4L-2.31,-4Z"]}, "legend": null},
                   "stroke": {"field": "s", "type": "nominal", "legend": null},
                   "fill": {"condition": {"test": "datum.f == 1", "field": "s", "type": "nominal", "scale": {"domain": ["LP-AMF","LP-PMF","LP-GO","LP-CP","AMF-CP","AMF-PMF","GO-AMF","GO-PMF","GO-CP","PMF-CP"], "range": ["#999999","#000000","#999999","#000000","#999999","#000000","#999999","#000000","#999999","#000000"]}, "legend": null}, "value": "transparent"}
                 }}
              ]
            }
          ]
        },
        {
          "data": {"name": "leg"},
          "width": 184, "height": 295,
          "layer": [
            {"mark": {"type": "rule", "strokeWidth": 1.8},
             "encoding": {
               "x": {"datum": 0.07, "type": "quantitative", "scale": {"domain": [0, 1], "nice": false, "zero": false}, "axis": null},
               "x2": {"datum": 0.41},
               "y": {"field": "s", "type": "nominal", "scale": {"type": "point", "domain": ["LP-AMF","LP-PMF","LP-GO","LP-CP","AMF-CP","AMF-PMF","GO-AMF","GO-PMF","GO-CP","PMF-CP"], "padding": 0.586}, "axis": null},
               "stroke": {"field": "s", "type": "nominal", "scale": {"domain": ["LP-AMF","LP-PMF","LP-GO","LP-CP","AMF-CP","AMF-PMF","GO-AMF","GO-PMF","GO-CP","PMF-CP"], "range": ["#999999","#000000","#999999","#000000","#999999","#000000","#999999","#000000","#999999","#000000"]}, "legend": null}
             }},
            {"mark": {"type": "point", "size": 4, "opacity": 1, "strokeWidth": 1.8, "filled": false, "fill": "transparent"},
             "encoding": {
               "x": {"datum": 0.24, "type": "quantitative"},
               "y": {"field": "s", "type": "nominal"},
               "shape": {"field": "s", "type": "nominal", "scale": {"domain": ["LP-AMF","LP-PMF","LP-GO","LP-CP","AMF-CP","AMF-PMF","GO-AMF","GO-PMF","GO-CP","PMF-CP"], "range": ["M-8,0L8,-9L8,9Z","M8,0L-8,-9L-8,9Z","M0,-7.5L1.68,-2.32L7.13,-2.32L2.72,0.89L4.41,6.07L0,2.87L-4.41,6.07L-2.72,0.89L-7.13,-2.32L-1.68,-2.32Z","M0,-9L8,0L0,9L-8,0Z","M8,0A8,8 0 1,1 -8,0A8,8 0 1,1 8,0Z","M0,-7.5L1.68,-2.32L7.13,-2.32L2.72,0.89L4.41,6.07L0,2.87L-4.41,6.07L-2.72,0.89L-7.13,-2.32L-1.68,-2.32Z","M0,-8L9.5,8L-9.5,8Z","M-6.5,-6.5L6.5,-6.5L6.5,6.5L-6.5,6.5Z","M0,8L9.5,-8L-9.5,-8Z","M0,-8L2.31,-4L6.93,-4L4.62,0L6.93,4L2.31,4L0,8L-2.31,4L-6.93,4L-4.62,0L-6.93,-4L-2.31,-4Z"]}, "legend": null},
               "stroke": {"field": "s", "type": "nominal", "legend": null}
             }},
            {"mark": {"type": "text", "align": "left", "baseline": "middle", "fontSize": 19, "color": "#000000"},
             "encoding": {
               "x": {"datum": 0.45, "type": "quantitative"},
               "y": {"field": "s", "type": "nominal"},
               "text": {"field": "s"}
             }}
          ]
        }
      ]
    }
  ]
}
